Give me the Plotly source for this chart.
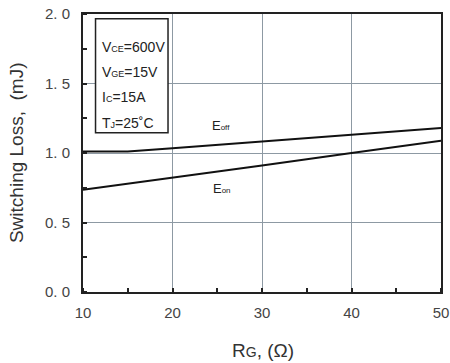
import plotly.graph_objects as go

# Gate resistance (ohm) and switching energy (mJ)
rg_off = [10, 15, 20, 30, 40, 50]
e_off = [1.01, 1.01, 1.035, 1.085, 1.135, 1.18]
rg_on = [10, 20, 30, 40, 50]
e_on = [0.735, 0.82, 0.91, 1.0, 1.088]

x_ticks = [10, 20, 30, 40, 50]
y_ticks = [0.0, 0.5, 1.0, 1.5, 2.0]
y_tick_text = ["0. 0", "0. 5", "1. 0", "1. 5", "2. 0"]

conditions = [
    "V<span style='font-size:9px'>CE</span>=600V",
    "V<span style='font-size:9px'>GE</span>=15V",
    "I<span style='font-size:9px'>C</span>=15A",
    "T<span style='font-size:9px'>J</span>=25˚C",
]

FONT = "Liberation Sans, Arial, sans-serif"
GRID = "#8d99a3"
INK = "#222222"
TXT = "#444444"

fig = go.Figure()
fig.add_trace(go.Scatter(x=rg_off, y=e_off, mode="lines",
                         line=dict(color="#111111", width=2), name="Eoff"))
fig.add_trace(go.Scatter(x=rg_on, y=e_on, mode="lines",
                         line=dict(color="#111111", width=2), name="Eon"))

# curve labels
fig.add_annotation(x=24.2, y=1.195, xref="x", yref="y", showarrow=False,
                   text="E<span style='font-size:8px'>off</span>",
                   font=dict(family=FONT, size=13, color=INK), xanchor="left")
fig.add_annotation(x=24.3, y=0.745, xref="x", yref="y", showarrow=False,
                   text="E<span style='font-size:8px'>on</span>",
                   font=dict(family=FONT, size=13, color=INK), xanchor="left")

# test-condition box
fig.add_shape(type="rect", xref="x", yref="y", x0=11.4, x1=19.5, y0=1.145, y1=1.965,
              line=dict(color=INK, width=1.5), fillcolor="white", layer="above")
cond_y = [1.765, 1.585, 1.40, 1.215]
for txt, yy in zip(conditions, cond_y):
    fig.add_annotation(x=11.95, y=yy, xref="x", yref="y", showarrow=False,
                       text=txt, xanchor="left",
                       font=dict(family=FONT, size=14, color=INK))

# axis titles
fig.add_annotation(x=-0.187, y=0.5, xref="paper", yref="paper", showarrow=False,
                   text="Switching Loss,  (mJ)", textangle=-90,
                   xanchor="center", yanchor="middle",
                   font=dict(family=FONT, size=19, color="#333333"))
fig.add_annotation(x=0.503, y=-0.209, xref="paper", yref="paper", showarrow=False,
                   text="R<span style='font-size:14px'>G</span>, (Ω)",
                   xanchor="center", yanchor="middle",
                   font=dict(family=FONT, size=19, color="#333333"))

fig.update_layout(
    width=450, height=363,
    margin=dict(l=83, r=9, t=14, b=71),
    paper_bgcolor="white", plot_bgcolor="white",
    showlegend=False,
    font=dict(family=FONT, color=TXT),
)
fig.update_xaxes(
    range=[10, 50], tickvals=x_ticks, ticks="", automargin=False,
    ticklabelstandoff=6,
    showgrid=True, gridcolor=GRID, gridwidth=1.2,
    showline=True, linecolor=INK, linewidth=2, mirror=True,
    zeroline=False,
    tickfont=dict(family=FONT, size=15, color=TXT),
    minor=dict(ticks="inside", dtick=5, tick0=10, ticklen=4, tickcolor=INK,
               tickwidth=1.5, showgrid=False),
)
fig.update_yaxes(
    range=[0, 2], tickvals=y_ticks, ticktext=y_tick_text, ticks="", automargin=False,
    ticklabelstandoff=8,
    showgrid=True, gridcolor=GRID, gridwidth=1.2,
    showline=True, linecolor=INK, linewidth=2, mirror=True,
    zeroline=False,
    tickfont=dict(family=FONT, size=15, color=TXT),
    minor=dict(ticks="inside", dtick=0.25, tick0=0, ticklen=4, tickcolor=INK,
               tickwidth=1.5, showgrid=False),
)

fig.write_html("out.html")
